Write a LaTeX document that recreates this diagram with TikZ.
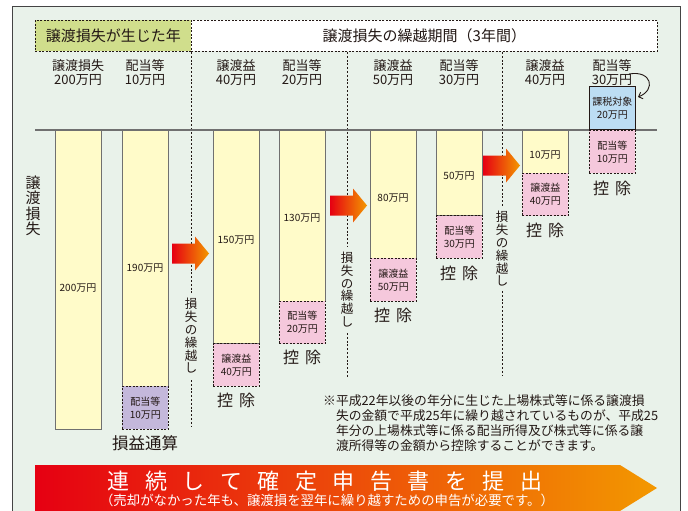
\documentclass[tikz,border=0pt]{standalone}
\usepackage{fontspec}
\setmainfont{Noto Sans CJK JP}
\usetikzlibrary{arrows.meta}
\definecolor{bgc}{HTML}{E9F2EA}
\definecolor{framec}{HTML}{444444}
\definecolor{hdrgreen}{HTML}{D0DE8C}
\definecolor{ybarc}{HTML}{FFFBC9}
\definecolor{bargray}{HTML}{707070}
\definecolor{pinkc}{HTML}{F5C8DC}
\definecolor{purplec}{HTML}{C4B8DB}
\definecolor{bluec}{HTML}{BCDDF3}
\definecolor{txtc}{HTML}{231815}
\definecolor{arrred}{HTML}{E60012}
\definecolor{arrorange}{HTML}{F39800}
\newcommand\bsp{\hspace{15.5pt}}
\tikzset{
  hdrbox/.style={draw=txtc, dash pattern=on 2pt off 1.5pt, line width=0.8pt, minimum height=31pt, anchor=north west, inner sep=0pt, font=\fontsize{15}{15}\selectfont, text=txtc},
  vdash/.style={draw=txtc, dash pattern=on 2pt off 1.8pt, line width=0.8pt},
  ybox/.style={draw=bargray, fill=ybarc, line width=1pt, minimum width=46pt, inner sep=0pt, anchor=north west},
  pbox/.style={draw=txtc, dash pattern=on 2pt off 1.5pt, line width=0.8pt, fill=pinkc, minimum width=46pt, minimum height=42.66pt, inner sep=0pt, anchor=north west, align=center, font=\fontsize{10}{13}\selectfont, text=txtc},
  coltxt/.style={align=center, font=\fontsize{13}{14}\selectfont, text=txtc},
  bartxt/.style={font=\fontsize{10}{12}\selectfont, text=txtc},
  kojo/.style={font=\fontsize{16}{16}\selectfont, text=txtc},
  vtxt/.style={align=center, font=\fontsize{12.5}{12.8}\selectfont, text=txtc, inner sep=0pt},
  fwdarrow/.pic={\shade[left color=arrred, right color=arrorange] (0,-10) -- (23,-10) -- (23,-17) -- (37,0) -- (23,17) -- (23,10) -- (0,10) -- cycle;}
}
\begin{document}
\begin{tikzpicture}[x=1pt,y=-1pt]
\useasboundingbox (0,0) rectangle (688,511);
\clip (0,0) rectangle (688,511);
\fill[white] (0,0) rectangle (688,511);
\draw[fill=bgc, draw=framec, line width=1pt] (12,7) rectangle (680,530);
% header
\node[hdrbox, fill=hdrgreen, minimum width=156pt] (h1) at (35,20) {譲渡損失が生じた年};
\node[hdrbox, fill=white, minimum width=466pt] (h2) at (191,20) {譲渡損失の繰越期間（3年間）};
% vertical dashed separators
\draw[vdash] (191,52) -- (191,293);
\draw[vdash] (191,380) -- (191,427);
\node[vtxt] (v1) at (191,336) {損\\失\\の\\繰\\越\\し};
\draw[vdash] (347,52) -- (347,246);
\draw[vdash] (347,333) -- (347,378);
\node[vtxt] (v2) at (347,289.5) {損\\失\\の\\繰\\越\\し};
\draw[vdash] (502,52) -- (502,207);
\draw[vdash] (502,291) -- (502,375);
\node[vtxt] (v3) at (502,249) {損\\失\\の\\繰\\越\\し};
% baseline
\draw[draw=bargray, line width=1.2pt] (35,130) -- (657,130);
% column headings
\node[coltxt] (c1) at (78,73) {譲渡損失\\200万円};
\node[coltxt] (c2) at (145,73) {配当等\\10万円};
\node[coltxt] (c3) at (236,73) {譲渡益\\40万円};
\node[coltxt] (c4) at (302,73) {配当等\\20万円};
\node[coltxt] (c5) at (393,73) {譲渡益\\50万円};
\node[coltxt] (c6) at (459,73) {配当等\\30万円};
\node[coltxt] (c7) at (545,73) {譲渡益\\40万円};
\node[coltxt] (c8) at (612,73) {配当等\\30万円};
% left label
\node[align=center, font=\fontsize{15}{15.5}\selectfont, text=txtc] (ll) at (33,206) {譲\\渡\\損\\失};
% bars
\node[ybox, minimum height=298.6pt] (y1) at (55,130) {};
\node[bartxt] at (78,288) {200万円};
\node[ybox, minimum height=256pt] (y2) at (122,130) {};
\node[bartxt] at (145,268) {190万円};
\node[pbox, fill=purplec] (p2) at (122,386) {配当等\\10万円};
\node[font=\fontsize{16.5}{16.5}\selectfont, text=txtc] (k2) at (145,443) {損益通算};
\node[ybox, minimum height=213.3pt] (y3) at (213,130) {};
\node[bartxt] at (236,240) {150万円};
\node[pbox] (p3) at (213,343.3) {譲渡益\\40万円};
\node[kojo] (k3) at (236,400) {控\hspace{6pt}除};
\node[ybox, minimum height=170.6pt] (y4) at (279,130) {};
\node[bartxt] at (302,218) {130万円};
\node[pbox] (p4) at (279,300.6) {配当等\\20万円};
\node[kojo] (k4) at (302,357) {控\hspace{6pt}除};
\node[ybox, minimum height=128pt] (y5) at (370,130) {};
\node[bartxt] at (393,198) {80万円};
\node[pbox] (p5) at (370,258) {譲渡益\\50万円};
\node[kojo] (k5) at (393,315) {控\hspace{6pt}除};
\node[ybox, minimum height=85.3pt] (y6) at (436,130) {};
\node[bartxt] at (459,176) {50万円};
\node[pbox] (p6) at (436,215.3) {配当等\\30万円};
\node[kojo] (k6) at (459,273) {控\hspace{6pt}除};
\node[ybox, minimum height=42.66pt] (y7) at (522,130) {};
\node[bartxt] at (545,155) {10万円};
\node[pbox] (p7) at (522,172.66) {譲渡益\\40万円};
\node[kojo] (k7) at (545,230) {控\hspace{6pt}除};
\node[pbox] (p8) at (589,130) {配当等\\10万円};
\node[kojo] (k8) at (612,188) {控\hspace{6pt}除};
\node[draw=txtc, line width=0.8pt, fill=bluec, minimum width=46pt, minimum height=43pt, inner sep=0pt, anchor=south west, align=center, font=\fontsize{10}{13}\selectfont, text=txtc] (t8) at (589,130) {課税対象\\20万円};
% curved arrow
\coordinate (ca1) at (629,74);
\coordinate (ca2) at (638,97);
\draw[-{Straight Barb[length=3.5pt,width=7pt]}, line width=0.9pt, draw=txtc] (ca1) .. controls (652,70) and (656,90) .. (ca2);
% forward arrows
\pic at (172,253.5) {fwdarrow};
\pic at (330,205.5) {fwdarrow};
\pic at (483,165.5) {fwdarrow};
% note
\node[anchor=north west, align=left, inner sep=0pt, font=\fontsize{12.8}{15.3}\selectfont, text=txtc] (note) at (323,394) {※平成22年以後の年分に生じた上場株式等に係る譲渡損\\\hphantom{※}失の金額で平成25年に繰り越されているものが、平成25\\\hphantom{※}年分の上場株式等に係る配当所得及び株式等に係る譲\\\hphantom{※}渡所得等の金額から控除することができます。};
% banner
\shade[left color=arrred, right color=arrorange] (35,465) -- (620,465) -- (657,488) -- (620,511) -- (35,511) -- cycle;
\node[text=white, font=\fontsize{22}{22}\selectfont] (bt) at (325,481) {連\bsp 続\bsp し\bsp て\bsp 確\bsp 定\bsp 申\bsp 告\bsp 書\bsp を\bsp 提\bsp 出};
\node[text=white, font=\fontsize{13.4}{14}\selectfont] (bs) at (327,500) {（売却がなかった年も、譲渡損を翌年に繰り越すための申告が必要です。）};
\end{tikzpicture}
\end{document}
